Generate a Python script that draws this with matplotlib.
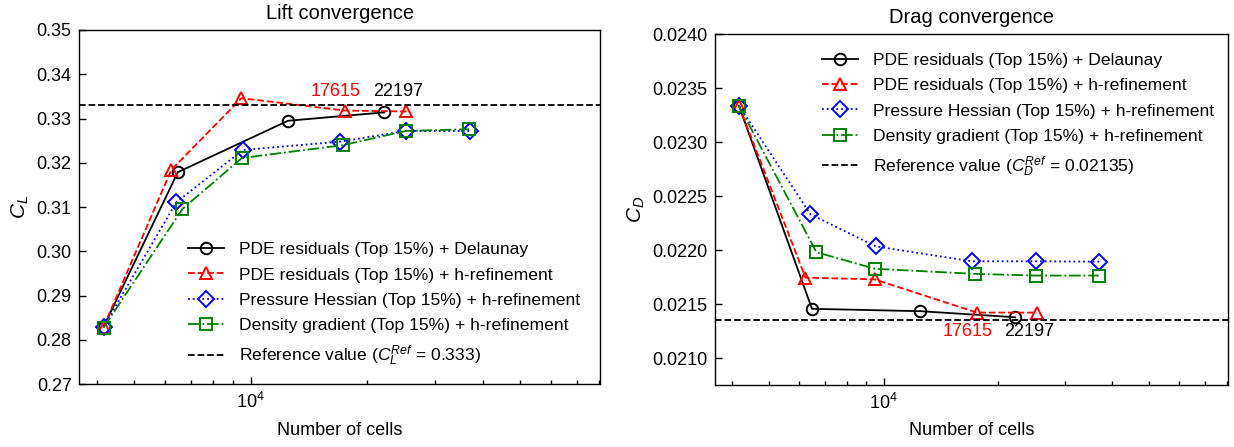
import matplotlib
matplotlib.use("Agg")
import matplotlib.pyplot as plt
from matplotlib.ticker import FormatStrFormatter, MultipleLocator, LogLocator, NullFormatter

plt.rcParams['font.family'] = 'sans-serif'
plt.rcParams['font.sans-serif'] = ['Liberation Sans', 'DejaVu Sans']
plt.rcParams['mathtext.fontset'] = 'custom'
plt.rcParams['mathtext.rm'] = 'Liberation Sans'
plt.rcParams['mathtext.it'] = 'Liberation Sans:italic'
plt.rcParams['mathtext.bf'] = 'Liberation Sans:bold'
plt.rcParams['font.size'] = 13
plt.rcParams['axes.linewidth'] = 1.0

# Number of cells per refinement step
cells_delaunay = [4160, 6480, 12500, 22197]
cells_pde_h = [4160, 6230, 9470, 17615, 25350]
cells_hessian = [4160, 6420, 9550, 17100, 25250, 37000]
cells_density = [4160, 6660, 9500, 17360, 25250, 36850]

# Lift coefficient
cl_delaunay = [0.2830, 0.3179, 0.3295, 0.3314]
cl_pde_h = [0.2830, 0.3184, 0.3346, 0.3318, 0.3316]
cl_hessian = [0.2830, 0.3111, 0.3229, 0.3248, 0.3272, 0.3272]
cl_density = [0.2828, 0.3096, 0.3211, 0.3240, 0.3272, 0.3276]
cl_ref = 0.333

# Drag coefficient
cd_delaunay = [0.02334, 0.021456, 0.021434, 0.021378]
cd_pde_h = [0.02334, 0.021745, 0.021729, 0.021421, 0.021421]
cd_hessian = [0.02334, 0.022332, 0.022034, 0.021896, 0.021896, 0.021893]
cd_density = [0.02334, 0.021980, 0.021827, 0.021780, 0.021764, 0.021764]
cd_ref = 0.02135

labels = ['PDE residuals (Top 15%) + Delaunay',
          'PDE residuals (Top 15%) + h-refinement',
          'Pressure Hessian (Top 15%) + h-refinement',
          'Density gradient (Top 15%) + h-refinement']

styles = [dict(color='black', ls='-', marker='o', ms=8.3),
          dict(color='red', ls='--', marker='^', ms=9),
          dict(color='blue', ls=':', marker='D', ms=7.8),
          dict(color='green', ls='-.', marker='s', ms=9)]

fig = plt.figure(figsize=(12.34, 4.47), dpi=100)
ax1 = fig.add_axes([0.0643, 0.1403, 0.4220, 0.7926])
ax2 = fig.add_axes([0.5794, 0.1387, 0.4155, 0.7846])


def draw(ax, xs, ys, ref, ref_label):
    for x, y, st, lab in zip(xs, ys, styles, labels):
        ax.plot(x, y, label=lab, lw=1.3, mfc='none', mew=1.4, **st)
    ax.axhline(ref, color='black', ls='--', lw=1.3, label=ref_label)
    ax.set_xscale('log')
    ax.set_xlim(3600, 80500)
    ax.xaxis.set_minor_locator(LogLocator(base=10, subs=range(2, 10)))
    ax.xaxis.set_minor_formatter(NullFormatter())
    ax.tick_params(which='major', direction='in', length=5, width=1, pad=5.5, labelsize=13)
    ax.tick_params(which='minor', direction='in', length=3, width=1)
    ax.set_xlabel('Number of cells', fontsize=13, labelpad=7)


leg_kw = dict(loc='upper left', frameon=False, borderpad=0, borderaxespad=0,
              handlelength=2.05, handletextpad=0.85, labelspacing=0.58, fontsize=12.6)

draw(ax1, [cells_delaunay, cells_pde_h, cells_hessian, cells_density],
     [cl_delaunay, cl_pde_h, cl_hessian, cl_density],
     cl_ref, r'Reference value ($C_L^{Ref}$ = 0.333)')
ax1.set_ylim(0.27, 0.35)
ax1.yaxis.set_major_locator(MultipleLocator(0.01))
ax1.yaxis.set_major_formatter(FormatStrFormatter('%.2f'))
ax1.set_ylabel(r'$C_L$', fontsize=15, labelpad=4)
ax1.set_title('Lift convergence', fontsize=14.5, pad=8)
ax1.legend(bbox_to_anchor=(0.209, 0.402), **leg_kw)
ax1.annotate('17615', xy=(cells_pde_h[3], 0.336), xytext=(-7, 0), textcoords='offset points',
             ha='center', va='center', color='red', fontsize=13)
ax1.annotate('22197', xy=(cells_delaunay[-1], 0.336), xytext=(10, 0), textcoords='offset points',
             ha='center', va='center', color='black', fontsize=13)

draw(ax2, [cells_delaunay, cells_pde_h, cells_hessian, cells_density],
     [cd_delaunay, cd_pde_h, cd_hessian, cd_density],
     cd_ref, r'Reference value ($C_D^{Ref}$ = 0.02135)')
ax2.set_ylim(0.02075, 0.0240)
ax2.yaxis.set_major_locator(MultipleLocator(0.0005))
ax2.yaxis.set_major_formatter(FormatStrFormatter('%.4f'))
ax2.set_ylabel(r'$C_D$', fontsize=15, labelpad=4)
ax2.set_title('Drag convergence', fontsize=14.5, pad=8)
ax2.legend(bbox_to_anchor=(0.209, 0.948), **leg_kw)
ax2.annotate('17615', xy=(cells_pde_h[3], 0.021246), xytext=(-7, 0), textcoords='offset points',
             ha='center', va='center', color='red', fontsize=13)
ax2.annotate('22197', xy=(cells_delaunay[-1], 0.021246), xytext=(10, 0), textcoords='offset points',
             ha='center', va='center', color='black', fontsize=13)

fig.savefig('out.png', dpi=100)
